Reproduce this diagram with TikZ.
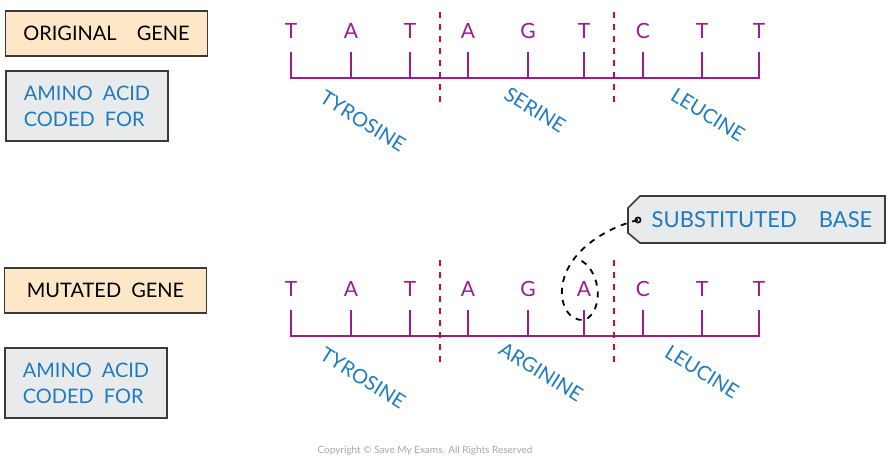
\documentclass[tikz,border=0pt]{standalone}
\usepackage{fontspec}
\setmainfont{Lato}
\usetikzlibrary{positioning}
\definecolor{basepurple}{HTML}{9A1D8E}
\definecolor{codered}{HTML}{C8102E}
\definecolor{acidblue}{HTML}{1F7BC0}
\definecolor{genefill}{HTML}{FDE7C6}
\definecolor{acidfill}{HTML}{E9EAEC}
\definecolor{boxline}{HTML}{3A3A3A}

\begin{document}
\begin{tikzpicture}[x=0.5pt, y=-0.5pt,
    labelfont/.style = {font=\fontsize{10}{13}\selectfont},
    genebox/.style   = {labelfont, draw=boxline, fill=genefill, line width=0.8pt,
                        minimum width=101pt, minimum height=22.5pt, inner sep=0pt},
    acidbox/.style   = {labelfont, draw=boxline, fill=acidfill, line width=0.8pt, text=acidblue,
                        minimum width=81pt, minimum height=35pt, inner sep=0pt, align=left},
    base/.style      = {font=\fontsize{10.5}{13}\selectfont, text=basepurple, inner sep=0pt},
    backbone/.style  = {draw=basepurple, line width=1.1pt},
    codon/.style     = {draw=codered, dashed, line width=0.8pt},
    acid/.style      = {labelfont, text=acidblue, rotate=-32, inner sep=0pt}
  ]
  \useasboundingbox (0,0) rectangle (892,464);

  % left hand labels
  \node[genebox] (orig)   at (106.5,33.5) {ORIGINAL\quad GENE};
  \node[acidbox] (orig-aa) at (87,106) {AMINO\enspace ACID\\CODED\enspace FOR};
  \node[genebox] (mut)    at (105.5,290.5) {MUTATED\enspace GENE};
  \node[acidbox] (mut-aa)  at (86,383) {AMINO\enspace ACID\\CODED\enspace FOR};

  % the two strands
  \foreach \r/\dy/\seq in {o/0/{T/291,A/351,T/410,A/468,G/528,T/584,C/643,T/702,T/759},
                           m/258/{T/291,A/351,T/410,A/468,G/528,A/584,C/643,T/702,T/759}} {
    \coordinate (\r-line) at (0,78+\dy);
    \foreach \b/\x [count=\i] in \seq {
      \node[base] (\r-\i) at (\x,31+\dy) {\b};
      \coordinate (\r-t\i) at (\x,52+\dy);
    }
    \draw[backbone] (\r-t1) -- (\r-t1 |- \r-line) -- (\r-t9 |- \r-line) -- (\r-t9);
    \foreach \i in {2,...,8}
      \draw[backbone] (\r-t\i) -- (\r-t\i |- \r-line);
  }

  % codon borders
  \draw[codon] (440,12) -- (440,108);
  \draw[codon] (614,12) -- (614,108);
  \draw[codon] (440,260) -- (440,365);
  \draw[codon] (614,260) -- (614,365);

  % amino acids
  \node[acid] (o-tyr) at (363,121) {TYROSINE};
  \node[acid] (o-ser) at (535,110) {SERINE};
  \node[acid] (o-leu) at (708,115) {LEUCINE};
  \node[acid] (m-tyr) at (363,378) {TYROSINE};
  \node[acid] (m-arg) at (541,372) {ARGININE};
  \node[acid] (m-leu) at (702,372) {LEUCINE};

  % tag for the changed base
  \draw[draw=boxline, fill=acidfill, line width=0.8pt]
    (628,208) -- (640,196) -- (885,196) -- (885,243) -- (640,243) -- (628,233) -- cycle;
  \node[font=\fontsize{11}{13}\selectfont, text=acidblue, inner sep=0pt] (subst) at (762,220)
    {SUBSTITUTED\quad BASE};
  \coordinate (hole) at (638,220);
  \draw[line width=0.8pt] (hole) circle (2.6);
  \draw[dashed, line width=0.9pt]
    (hole) .. controls (605,228) and (566,252) .. (562,288)
           .. controls (560,312) and (576,325) .. (588,318)
           .. controls (604,306) and (600,268) .. (578,259);

  \node[font=\fontsize{5}{6}\selectfont, text=black!35] (copy) at (425,451)
    {Copyright © Save My Exams. All Rights Reserved};
\end{tikzpicture}
\end{document}
